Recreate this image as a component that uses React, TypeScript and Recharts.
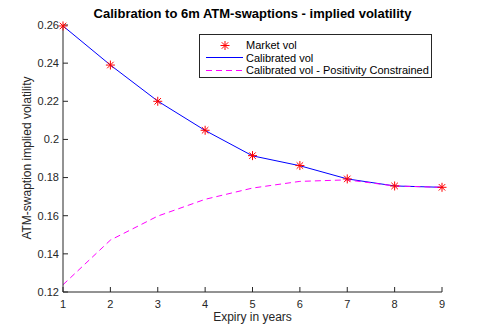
import React from "react";
import { LineChart, Line, XAxis, YAxis } from "recharts";

const expiries = [1, 2, 3, 4, 5, 6, 7, 8, 9];
const marketVol = [0.2595, 0.239, 0.22, 0.2048, 0.1915, 0.1863, 0.1793, 0.1756, 0.1749];
const calibratedVol = [0.2595, 0.239, 0.2201, 0.2047, 0.1914, 0.1862, 0.1793, 0.1756, 0.1749];
const constrainedVol = [0.1238, 0.1472, 0.1598, 0.1686, 0.1745, 0.178, 0.1788, 0.1756, 0.1749];
const yTicks = [0.12, 0.14, 0.16, 0.18, 0.2, 0.22, 0.24, 0.26];

const data = expiries.map((x, i) => ({
  x,
  market: marketVol[i],
  calib: calibratedVol[i],
  constrained: constrainedVol[i],
}));

const FONT = "'Liberation Sans', Arial, Helvetica, sans-serif";
const AXIS = "#262626";

const Star = (props: any) => {
  const { cx, cy } = props;
  if (cx == null || cy == null) return null;
  const r = 4.5;
  const d = r * 0.72;
  return (
    <g stroke="#ff0000" strokeWidth={1}>
      <line x1={cx - r} y1={cy} x2={cx + r} y2={cy} />
      <line x1={cx} y1={cy - r} x2={cx} y2={cy + r} />
      <line x1={cx - d} y1={cy - d} x2={cx + d} y2={cy + d} />
      <line x1={cx - d} y1={cy + d} x2={cx + d} y2={cy - d} />
    </g>
  );
};

const formatY = (v: number) => String(Number(v.toFixed(2)));

export default function App() {
  return (
    <div style={{ position: "absolute", left: 0, top: 0, width: 488, height: 327, background: "#fff", fontFamily: FONT }}>
      <LineChart
        width={488}
        height={327}
        data={data}
        margin={{ top: 25, right: 46, left: 23, bottom: 15 }}
      >
        <XAxis
          dataKey="x"
          type="number"
          domain={[1, 9]}
          ticks={expiries}
          tickSize={-5}
          tickMargin={13}
          stroke={AXIS}
          tick={{ fill: AXIS, fontSize: 11, fontFamily: FONT }}
          height={20}
        />
        <XAxis
          xAxisId="top"
          orientation="top"
          dataKey="x"
          type="number"
          domain={[1, 9]}
          ticks={expiries}
          tickSize={-5}
          tickFormatter={() => ""}
          stroke={AXIS}
          height={0}
        />
        <YAxis
          type="number"
          domain={[0.12, 0.26]}
          ticks={yTicks}
          tickSize={-5}
          tickMargin={9}
          tickFormatter={formatY}
          stroke={AXIS}
          tick={{ fill: AXIS, fontSize: 11, fontFamily: FONT }}
          width={40}
        />
        <YAxis
          yAxisId="right"
          orientation="right"
          type="number"
          domain={[0.12, 0.26]}
          ticks={yTicks}
          tickSize={-5}
          tickFormatter={() => ""}
          stroke={AXIS}
          width={0}
        />
        <Line
          dataKey="market"
          stroke="none"
          dot={<Star />}
          activeDot={false}
          isAnimationActive={false}
        />
        <Line
          dataKey="calib"
          type="linear"
          stroke="#0000ff"
          strokeWidth={1}
          dot={false}
          isAnimationActive={false}
        />
        <Line
          dataKey="constrained"
          type="linear"
          stroke="#ff00ff"
          strokeWidth={1}
          strokeDasharray="6 4"
          dot={false}
          isAnimationActive={false}
        />
      </LineChart>
      <div style={{ position: "absolute", left: 0, width: 505, top: 6, textAlign: "center", fontWeight: "bold", fontSize: 13, color: "#000" }}>
        Calibration to 6m ATM-swaptions - implied volatility
      </div>
      <div style={{ position: "absolute", left: 0, width: 505, top: 310, textAlign: "center", fontSize: 12, color: AXIS }}>
        Expiry in years
      </div>
      <div
        style={{
          position: "absolute",
          left: 27,
          top: 158,
          transform: "translate(-50%, -50%) rotate(-90deg)",
          whiteSpace: "nowrap",
          fontSize: 12,
          color: AXIS,
        }}
      >
        ATM-swaption implied volatility
      </div>
      <div
        style={{
          position: "absolute",
          left: 199,
          top: 34,
          width: 231,
          height: 42,
          border: "1px solid #262626",
          background: "#fff",
          fontSize: 11,
          color: "#000",
        }}
      >
        {[
          { label: "Market vol", kind: "star" },
          { label: "Calibrated vol", kind: "solid" },
          { label: "Calibrated vol - Positivity Constrained", kind: "dash" },
        ].map((it, i) => (
          <div key={i} style={{ position: "absolute", left: 0, top: 3.5 + i * 12.5, height: 13, width: 231, display: "flex", alignItems: "center" }}>
            <svg width={46} height={13} style={{ flex: "none" }}>
              {it.kind === "star" && <Star cx={25} cy={6.5} />}
              {it.kind === "solid" && <line x1={6} x2={43} y1={6.5} y2={6.5} stroke="#0000ff" />}
              {it.kind === "dash" && (
                <line x1={6} x2={43} y1={6.5} y2={6.5} stroke="#ff00ff" strokeDasharray="6 4" />
              )}
            </svg>
            <span style={{ whiteSpace: "nowrap" }}>{it.label}</span>
          </div>
        ))}
      </div>
    </div>
  );
}
